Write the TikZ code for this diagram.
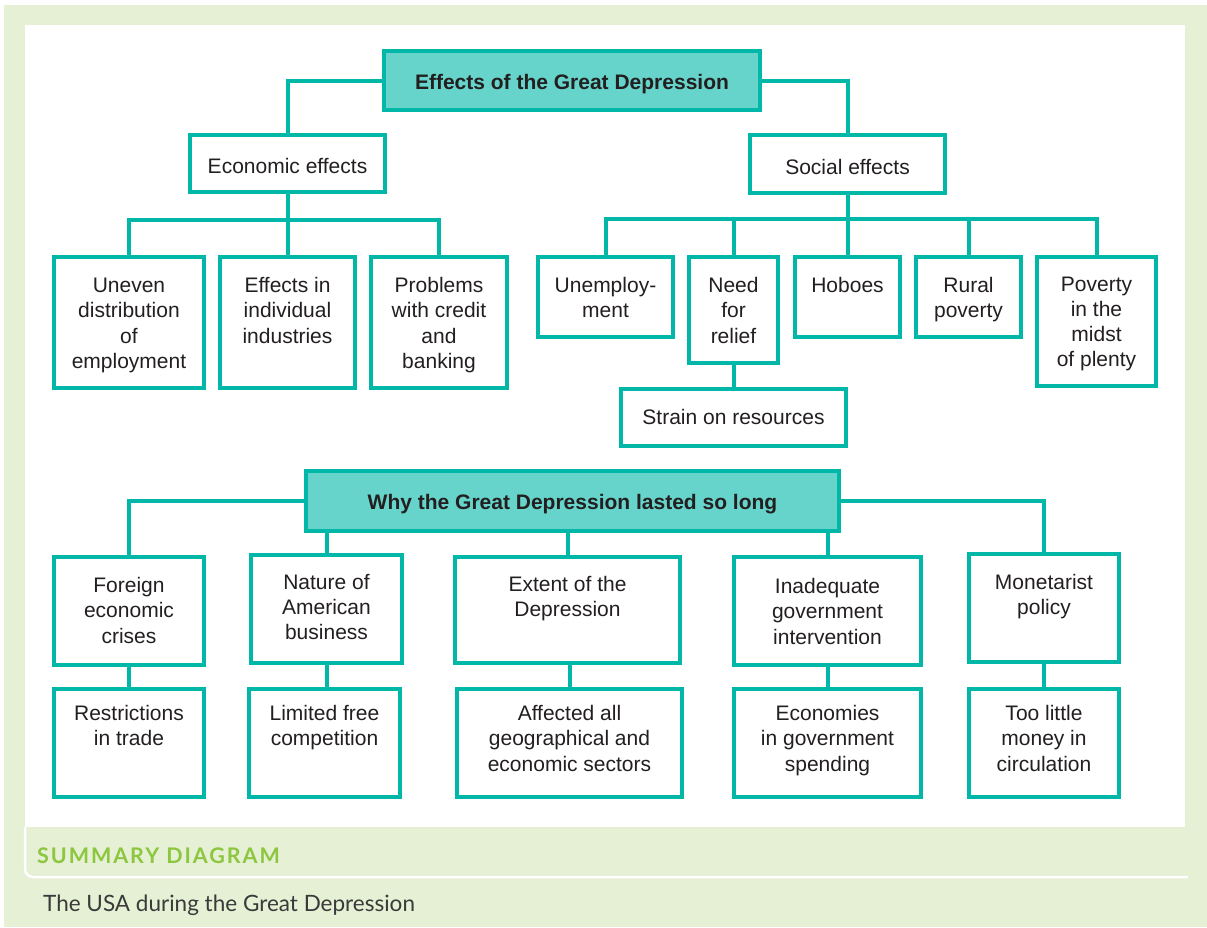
\documentclass[tikz,border=0pt]{standalone}
\usepackage{fontspec}
\setmainfont{Liberation Sans}
\newfontfamily\capfont{Lato}
\newfontfamily\headfont[LetterSpace=9]{Lato}

\definecolor{frameteal}{HTML}{00B7A8}
\definecolor{fillteal}{HTML}{66D4CA}
\definecolor{pagegreen}{HTML}{E5F0D5}
\definecolor{headgreen}{HTML}{8DC63F}
\definecolor{inkgray}{HTML}{231F20}
\definecolor{capgray}{HTML}{3A3A3A}

% multi-line text whose reference point is the first baseline
\newcommand{\lines}[1]{\begin{tabular}[t]{@{}c@{}}#1\end{tabular}}

\tikzset{
  txtfont/.style={font=\fontsize{21}{25.3}\selectfont, text=inkgray},
  cbox/.style={draw=frameteal, line width=4pt, fill=white, inner sep=0pt,
               text height=20pt, text depth=0pt, txtfont},
  hbox/.style={cbox, fill=fillteal, text height=18pt,
               font=\fontsize{21}{25.3}\selectfont\bfseries},
  toptext/.style={txtfont, anchor=base, inner sep=0pt, yshift=-#1},
  toptext/.default=37.5pt,
  link/.style={draw=frameteal, line width=4pt},
}

\begin{document}
\begin{tikzpicture}[x=1pt, y=-1pt]
\useasboundingbox (0,0) rectangle (1207,927);

% page frame
\fill[pagegreen] (4,5) rectangle (1207,927);
\fill[white] (25,25) rectangle (1185,827);
\draw[white, line width=2.5pt, rounded corners=8pt] (25,827) -- (25,877) -- (1188,877);

% ---- effects tree ----
\node[hbox, minimum width=376pt, minimum height=59pt] (top) at (572,80.5) {Effects of the Great Depression};
\node[cbox, minimum width=195pt, minimum height=57pt] (econ) at (287.5,163.5) {Economic effects};
\node[cbox, minimum width=195pt, minimum height=58pt] (social) at (847.5,164) {Social effects};

\node[cbox, minimum width=150pt, minimum height=131pt,
      label={[toptext]north:{\lines{Uneven\\distribution\\of\\employment}}}] (uneven) at (129,322.5) {};
\node[cbox, minimum width=135pt, minimum height=131pt,
      label={[toptext]north:{\lines{Effects in\\individual\\industries}}}] (effind) at (287.5,322.5) {};
\node[cbox, minimum width=136pt, minimum height=131pt,
      label={[toptext]north:{\lines{Problems\\with credit\\and\\banking}}}] (problems) at (439,322.5) {};

\node[cbox, minimum width=135pt, minimum height=80pt,
      label={[toptext]north:{\lines{Unemploy-\\ment}}}] (unemp) at (605.5,297) {};
\node[cbox, minimum width=89pt, minimum height=106pt,
      label={[toptext]north:{\lines{Need\\for\\relief}}}] (need) at (733.5,310) {};
\node[cbox, minimum width=105pt, minimum height=80pt,
      label={[toptext]north:{\lines{Hoboes}}}] (hoboes) at (847.5,297) {};
\node[cbox, minimum width=105pt, minimum height=80pt,
      label={[toptext]north:{\lines{Rural\\poverty}}}] (rural) at (968.5,297) {};
\node[cbox, minimum width=119pt, minimum height=129pt,
      label={[toptext=36pt]north:{\lines{Poverty\\in the\\midst\\of plenty}}}] (poverty) at (1096.5,321.5) {};
\node[cbox, minimum width=225pt, minimum height=57pt, text height=14pt] (strain) at (733.5,417.5) {Strain on resources};

\coordinate (ebus) at (287.5,220);
\coordinate (sbus) at (847.5,219);

\draw[link] (top.west) -| (econ.north);
\draw[link] (top.east) -| (social.north);
\draw[link] (uneven.north) |- (ebus) -| (problems.north);
\draw[link] (econ.south) -- (effind.north);
\draw[link] (unemp.north) |- (sbus) -| (poverty.north);
\draw[link] (social.south) -- (hoboes.north);
\draw[link] (need.north) -- (need.north |- sbus);
\draw[link] (rural.north) -- (rural.north |- sbus);
\draw[link] (need.south) -- (strain.north);

% ---- why it lasted ----
\node[hbox, minimum width=533pt, minimum height=60pt, text height=17pt] (why) at (572.5,501) {Why the Great Depression lasted so long};

\node[cbox, minimum width=150pt, minimum height=108pt,
      label={[toptext]north:{\lines{Foreign\\economic\\crises}}}] (foreign) at (129,611) {};
\node[cbox, minimum width=151pt, minimum height=108pt,
      label={[toptext=36pt]north:{\lines{Nature of\\American\\business}}}] (nature) at (326.5,609) {};
\node[cbox, minimum width=225pt, minimum height=106pt,
      label={[toptext=36.5pt]north:{\lines{Extent of the\\Depression}}}] (extent) at (567.5,610) {};
\node[cbox, minimum width=187pt, minimum height=108pt,
      label={[toptext=38.5pt]north:{\lines{Inadequate\\government\\intervention}}}] (inadequate) at (827.5,611) {};
\node[cbox, minimum width=150pt, minimum height=108pt,
      label={[toptext]north:{\lines{Monetarist\\policy}}}] (monetarist) at (1044,608) {};

\node[cbox, minimum width=150pt, minimum height=108pt,
      label={[toptext=33.5pt]north:{\lines{Restrictions\\in trade}}}] (restrict) at (129,743) {};
\node[cbox, minimum width=151pt, minimum height=108pt,
      label={[toptext=33.5pt]north:{\lines{Limited free\\competition}}}] (limited) at (324.5,743) {};
\node[cbox, minimum width=225pt, minimum height=108pt,
      label={[toptext=33.5pt]north:{\lines{Affected all\\geographical and\\economic sectors}}}] (affected) at (569.5,743) {};
\node[cbox, minimum width=187pt, minimum height=108pt,
      label={[toptext=33.5pt]north:{\lines{Economies\\in government\\spending}}}] (economies) at (827.5,743) {};
\node[cbox, minimum width=150pt, minimum height=108pt,
      label={[toptext=33.5pt]north:{\lines{Too little\\money in\\circulation}}}] (toolittle) at (1044,743) {};

\draw[link] (why.west) -| (foreign.north);
\draw[link] (why.east) -| (monetarist.north);
\draw[link] (why.south -| nature.north) -- (nature.north);
\draw[link] (why.south -| extent.north) -- (extent.north);
\draw[link] (why.south -| inadequate.north) -- (inadequate.north);

\draw[link] (foreign.south) -- (restrict.north);
\draw[link] (nature.south) -- (nature.south |- limited.north);
\draw[link] (affected.north) -- (affected.north |- extent.south);
\draw[link] (inadequate.south) -- (economies.north);
\draw[link] (monetarist.south) -- (toolittle.north);

% ---- caption ----
\node[anchor=base west, inner sep=0pt, text=headgreen,
      font=\headfont\fontsize{21.5}{26}\selectfont\bfseries] (summary) at (37,863) {SUMMARY DIAGRAM};
\node[anchor=base west, inner sep=0pt, text=capgray,
      font=\capfont\fontsize{22.5}{27}\selectfont] (caption) at (43,911) {The USA during the Great Depression};
\end{tikzpicture}
\end{document}
